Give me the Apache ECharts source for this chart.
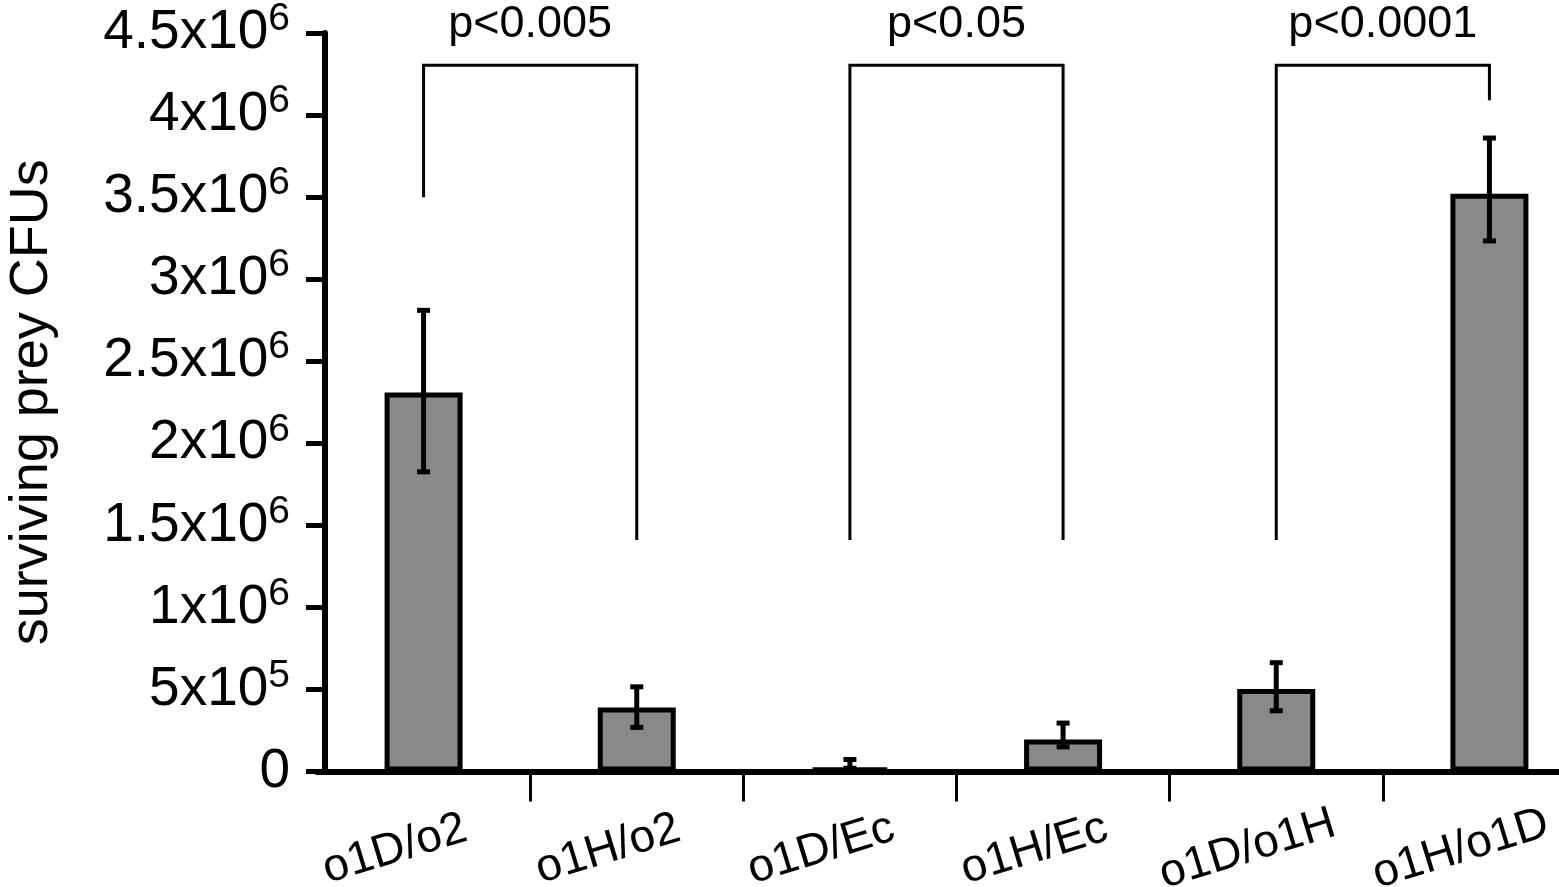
<!DOCTYPE html>
<html><head><meta charset="utf-8">
<script src="https://cdn.jsdelivr.net/npm/echarts@6/dist/echarts.min.js"></script>
<style>html,body{margin:0;padding:0;background:#fff}#c{width:1559px;height:887px}</style>
</head><body><div id="c"></div>
<script>
const categories = ['o1D/o2','o1H/o2','o1D/Ec','o1H/Ec','o1D/o1H','o1H/o1D'];
const means = [2310000, 390000, 20000, 195000, 502000, 3520000];
const errUpper = [2810000, 516000, 73000, 295000, 663000, 3860000];
const errLower = [1826000, 269000, 20000, 150000, 370000, 3233000];
const yTickMain = ['0','5x10','1x10','1.5x10','2x10','2.5x10','3x10','3.5x10','4x10','4.5x10'];
const yTickExp = ['','5','6','6','6','6','6','6','6','6'];
const bracketFrom = [0, 2, 4];
const bracketTo = [1, 3, 5];
const bracketTop = [4303000, 4303000, 4303000];
const bracketLeftEnd = [3499000, 1410000, 1410000];
const bracketRightEnd = [1410000, 1410000, 4090000];
const bracketLabels = ['p<0.005', 'p<0.05', 'p<0.0001'];

const FONT = '"Liberation Sans", Arial, Helvetica, sans-serif';
const chart = echarts.init(document.getElementById('c'), null, {renderer: 'canvas'});

const errData = categories.map((c, i) => [i, errLower[i], errUpper[i]]);
const brData = bracketFrom.map((f, i) => [f, bracketTo[i], bracketTop[i], bracketLeftEnd[i], bracketRightEnd[i]]);

chart.setOption({
  animation: false,
  backgroundColor: '#fff',
  grid: {left: 317, right: -37, top: 33, bottom: 115.5, containLabel: false, outerBoundsMode: 'none'},
  xAxis: {
    type: 'category',
    data: categories,
    boundaryGap: true,
    axisLine: {show: true, lineStyle: {color: '#000', width: 6}},
    axisTick: {show: true, length: 30, lineStyle: {color: '#000', width: 3}, interval: function (i) { return i > 0; }},
    axisLabel: {
      interval: 0, rotate: 17, align: 'center', verticalAlign: 'middle', margin: 69,
      padding: [0, 60, 0, 0], fontSize: 46, color: '#000', fontFamily: FONT
    },
    splitLine: {show: false}
  },
  yAxis: {
    type: 'value',
    min: 0, max: 4500000, interval: 500000,
    offset: -8,
    name: 'surviving prey CFUs',
    nameLocation: 'middle',
    nameGap: 266,
    nameTextStyle: {fontSize: 54, color: '#000', fontFamily: FONT},
    axisLine: {show: true, lineStyle: {color: '#000', width: 6}},
    axisTick: {show: true, length: 19, lineStyle: {color: '#000', width: 5}},
    splitLine: {show: false},
    axisLabel: {
      margin: 35,
      color: '#000',
      fontFamily: FONT,
      formatter: function (v) {
        const k = Math.round(v / 500000);
        const m = yTickMain[k], e = yTickExp[k];
        return e ? '{m|' + m + '}{s|' + e + '}' : '{m|' + m + '}';
      },
      rich: {
        m: {fontSize: 55, lineHeight: 56, verticalAlign: 'middle', color: '#000', fontFamily: FONT},
        s: {fontSize: 39, lineHeight: 56, verticalAlign: 'middle', padding: [0, 0, 27, 0], color: '#000', fontFamily: FONT}
      }
    }
  },
  series: [
    {
      type: 'bar',
      data: means,
      barWidth: 78,
      itemStyle: {color: '#898989', borderColor: '#000', borderWidth: 5},
      z: 2
    },
    {
      type: 'custom',
      data: errData,
      encode: {x: 0, y: [1, 2]},
      z: 5,
      renderItem: function (params, api) {
        const x = api.value(0);
        const lo = api.coord([x, api.value(1)]);
        const hi = api.coord([x, api.value(2)]);
        const cap = 6.5;
        const st = {stroke: '#000', lineWidth: 5};
        return {type: 'group', children: [
          {type: 'line', shape: {x1: lo[0], y1: lo[1], x2: hi[0], y2: hi[1]}, style: st},
          {type: 'line', shape: {x1: hi[0] - cap, y1: hi[1], x2: hi[0] + cap, y2: hi[1]}, style: st},
          {type: 'line', shape: {x1: lo[0] - cap, y1: lo[1], x2: lo[0] + cap, y2: lo[1]}, style: st}
        ]};
      }
    },
    {
      type: 'custom',
      data: brData,
      encode: {x: [0, 1], y: [2, 3, 4]},
      z: 6,
      renderItem: function (params, api) {
        const f = api.value(0), t = api.value(1);
        const a = api.coord([f, api.value(3)]);
        const b = api.coord([f, api.value(2)]);
        const c = api.coord([t, api.value(2)]);
        const d = api.coord([t, api.value(4)]);
        return {type: 'group', children: [
          {type: 'polyline', shape: {points: [a, b, c, d]}, style: {stroke: '#000', lineWidth: 3, fill: null}},
          {type: 'text', x: (b[0] + c[0]) / 2, y: b[1] - 41,
           style: {text: bracketLabels[params.dataIndex], fontSize: 45, fontFamily: FONT, fill: '#000', align: 'center', verticalAlign: 'middle'}}
        ]};
      }
    }
  ]
});
</script>
</body></html>
